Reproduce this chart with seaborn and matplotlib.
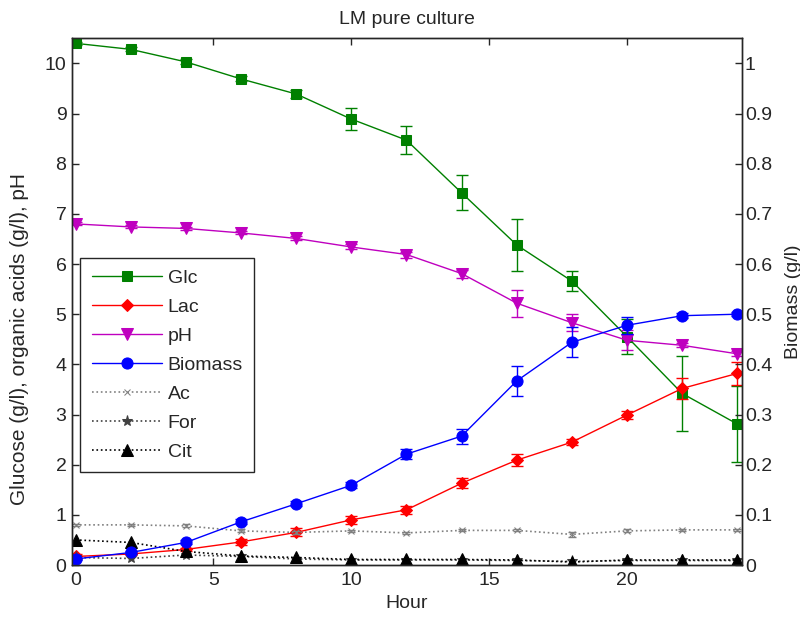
import numpy as np
import pandas as pd
import matplotlib
matplotlib.use("Agg")
import matplotlib.pyplot as plt
import seaborn as sns

hours = [0, 2, 4, 6, 8, 10, 12, 14, 16, 18, 20, 22, 24]

glc = [10.40, 10.28, 10.03, 9.69, 9.39, 8.89, 8.47, 7.42, 6.38, 5.66, 4.55, 3.42, 2.81]
glc_err = [0.03, 0.04, 0.05, 0.05, 0.07, 0.22, 0.28, 0.35, 0.51, 0.20, 0.35, 0.75, 0.76]

lac = [0.17, 0.22, 0.31, 0.46, 0.65, 0.90, 1.10, 1.63, 2.09, 2.45, 2.99, 3.52, 3.82]
lac_err = [0.05, 0.03, 0.03, 0.06, 0.08, 0.08, 0.08, 0.10, 0.12, 0.06, 0.08, 0.21, 0.23]

ph = [6.80, 6.74, 6.71, 6.62, 6.51, 6.34, 6.19, 5.81, 5.22, 4.83, 4.48, 4.38, 4.21]
ph_err = [0.03, 0.03, 0.03, 0.03, 0.04, 0.05, 0.06, 0.08, 0.27, 0.17, 0.20, 0.04, 0.05]

biomass = [0.012, 0.025, 0.045, 0.086, 0.122, 0.159, 0.221, 0.257, 0.367, 0.444, 0.478, 0.497, 0.500]
biomass_err = [0.002, 0.003, 0.004, 0.005, 0.005, 0.006, 0.010, 0.015, 0.030, 0.030, 0.017, 0.005, 0.004]

ac = [0.80, 0.80, 0.78, 0.68, 0.65, 0.68, 0.64, 0.69, 0.69, 0.61, 0.68, 0.70, 0.70]
ac_err = [0.02, 0.02, 0.03, 0.03, 0.03, 0.02, 0.02, 0.02, 0.02, 0.05, 0.03, 0.02, 0.02]

form = [0.15, 0.13, 0.20, 0.17, 0.12, 0.10, 0.10, 0.10, 0.09, 0.07, 0.09, 0.09, 0.09]
cit = [0.50, 0.45, 0.27, 0.18, 0.15, 0.11, 0.11, 0.11, 0.10, 0.06, 0.10, 0.10, 0.10]

sns.set_theme(style="ticks")
plt.rcParams['font.family'] = ['Liberation Sans', 'DejaVu Sans']
plt.rcParams['xtick.direction'] = 'in'
plt.rcParams['ytick.direction'] = 'in'

FS = 14
TXT = '#262626'

fig = plt.figure(figsize=(8, 6.2), dpi=100)
ax = fig.add_axes([0.09, 0.0887, 0.8375, 0.8495])
ax2 = ax.twinx()

left_series = [
    ("Glc", glc, glc_err, "#008000", "s", 7),
    ("Lac", lac, lac_err, "#ff0000", "D", 6),
    ("pH", ph, ph_err, "#bf00bf", "v", 8),
]
for name, vals, err, col, mk, ms in left_series:
    df = pd.DataFrame({"Hour": hours, "v": vals})
    sns.lineplot(data=df, x="Hour", y="v", ax=ax, color=col, marker=mk,
                 linestyle='-', linewidth=1.0, markersize=ms,
                 markeredgecolor=col, markerfacecolor=col, label=name, legend=False)
    ax.errorbar(hours, vals, yerr=err, fmt='none', ecolor=col, elinewidth=1.0,
                capsize=4, capthick=1.0)

dotted = [
    ("Ac", ac, ac_err, "#808080", "x", 5),
    ("For", form, None, "#404040", "*", 8),
    ("Cit", cit, None, "#000000", "^", 8),
]
for name, vals, err, col, mk, ms in dotted:
    df = pd.DataFrame({"Hour": hours, "v": vals})
    sns.lineplot(data=df, x="Hour", y="v", ax=ax, color=col, marker=mk,
                 linestyle=':', linewidth=1.2, markersize=ms,
                 markeredgecolor=col, markerfacecolor=col, label=name, legend=False)
    if err is not None:
        ax.errorbar(hours, vals, yerr=err, fmt='none', ecolor=col, elinewidth=1.0,
                    capsize=3, capthick=1.0)

dfb = pd.DataFrame({"Hour": hours, "v": biomass})
sns.lineplot(data=dfb, x="Hour", y="v", ax=ax2, color="#0000ff", marker="o",
             linestyle='-', linewidth=1.0, markersize=8,
             markeredgecolor="#0000ff", markerfacecolor="#0000ff", label="Biomass", legend=False)
ax2.errorbar(hours, biomass, yerr=biomass_err, fmt='none', ecolor="#0000ff",
             elinewidth=1.0, capsize=4, capthick=1.0)

ax.set_xlim(-0.13, 24.17)
ax.set_ylim(0, 10.5)
ax2.set_ylim(0, 1.05)
ax.set_xticks([0, 5, 10, 15, 20])
ax.set_yticks(range(0, 11))
ax2.set_yticks([0, 0.1, 0.2, 0.3, 0.4, 0.5, 0.6, 0.7, 0.8, 0.9, 1.0])
ax2.set_yticklabels(["0", "0.1", "0.2", "0.3", "0.4", "0.5", "0.6", "0.7", "0.8", "0.9", "1"])

ax.tick_params(axis='x', which='both', top=True, bottom=True, direction='in',
               length=5, width=1, labelsize=FS, colors=TXT, pad=5)
ax.tick_params(axis='y', left=True, right=False, direction='in', length=5, width=1,
               labelsize=FS, colors=TXT, pad=4)
ax2.tick_params(axis='y', right=True, direction='in', length=5, width=1,
                labelsize=FS, colors=TXT, pad=2)

for a in (ax, ax2):
    for s in a.spines.values():
        s.set_visible(True)
        s.set_color(TXT)
        s.set_linewidth(1.0)

ax.set_xlabel("Hour", fontsize=FS, color=TXT, labelpad=4)
ax.set_ylabel("Glucose (g/l), organic acids (g/l), pH", fontsize=15, color=TXT)
ax.yaxis.set_label_coords(-0.064, 0.43)
ax2.set_ylabel("Biomass (g/l)", fontsize=FS, color=TXT, labelpad=9)
ax.set_title("LM pure culture", fontsize=FS, color=TXT, pad=10)

h1, l1 = ax.get_legend_handles_labels()
h2, l2 = ax2.get_legend_handles_labels()
hd = dict(zip(l1 + l2, h1 + h2))
order = ["Glc", "Lac", "pH", "Biomass", "Ac", "For", "Cit"]
leg = ax2.legend([hd[k] for k in order], order, loc='upper left',
                 bbox_to_anchor=(0.012, 0.583), borderaxespad=0, fontsize=FS,
                 frameon=True, fancybox=False, framealpha=1, edgecolor=TXT,
                 handlelength=3.6, labelspacing=0.58, handletextpad=0.3,
                 borderpad=0.6, numpoints=1)
leg.get_frame().set_linewidth(1.0)

fig.savefig("out.png", dpi=100)
